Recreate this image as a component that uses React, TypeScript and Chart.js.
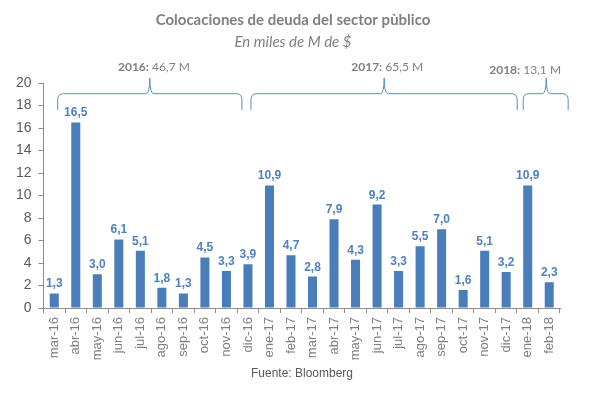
import { useEffect, useRef } from "react";
import { Chart, registerables } from "chart.js";

Chart.register(...registerables);

// Monthly placements (thousand millions of $)
const months = [
  "mar-16", "abr-16", "may-16", "jun-16", "jul-16", "ago-16", "sep-16", "oct-16",
  "nov-16", "dic-16", "ene-17", "feb-17", "mar-17", "abr-17", "may-17", "jun-17",
  "jul-17", "ago-17", "sep-17", "oct-17", "nov-17", "dic-17", "ene-18", "feb-18",
];
const placements = [
  1.3, 16.5, 3.0, 6.1, 5.1, 1.8, 1.3, 4.5, 3.3, 3.9, 10.9, 4.7,
  2.8, 7.9, 4.3, 9.2, 3.3, 5.5, 7.0, 1.6, 5.1, 3.2, 10.9, 2.3,
];

// Yearly totals shown above the braces
const yearNames = ["2016:", "2017:", "2018:"];
const yearTotals = [" 46,7 M", " 65,5 M", " 13,1 M"];

const TITLE = "Colocaciones de deuda del sector pùblico";
const SUBTITLE = "En miles de M de $";
const SOURCE = "Fuente: Bloomberg";

const BAR_COLOR = "#4A7EBB";
const LABEL_COLOR = "#4F81BD";
const GREY = "#7F7F7F";
const TICK_GREY = "#595959";
const AXIS_GREY = "#8C8C8C";

// Brace geometry in category-index units: [start, end, peak, label centre]
const braces = [
  [0.16, 8.72, 4.44, 4.63],
  [9.14, 21.51, 15.33, 15.47],
  [21.79, 23.88, 22.86, 21.88],
];

const fmt = (v: number) => v.toFixed(1).replace(".", ",");

const valueLabels = {
  id: "valueLabels",
  afterDatasetsDraw(chart: any) {
    const { ctx } = chart;
    const meta = chart.getDatasetMeta(0);
    ctx.save();
    ctx.font = "bold 12px 'Liberation Sans', Arial, sans-serif";
    ctx.fillStyle = LABEL_COLOR;
    ctx.textAlign = "center";
    ctx.textBaseline = "alphabetic";
    meta.data.forEach((bar: any, i: number) => {
      ctx.fillText(fmt(placements[i]), bar.x, bar.y - 6);
    });
    ctx.restore();
  },
};

const decorations = {
  id: "decorations",
  afterDraw(chart: any) {
    const { ctx } = chart;
    const x = chart.scales.x;
    const y = chart.scales.y;
    ctx.save();

    // Titles
    ctx.textAlign = "center";
    ctx.textBaseline = "middle";
    ctx.fillStyle = GREY;
    ctx.font = "bold 15px Lato, 'Open Sans', sans-serif";
    ctx.fillText(TITLE, 293, 20);
    ctx.font = "italic 15px Lato, 'Open Sans', sans-serif";
    ctx.fillText(SUBTITLE, 293, 42);

    // Source note
    ctx.fillStyle = TICK_GREY;
    ctx.font = "12px 'Liberation Sans', Arial, sans-serif";
    ctx.fillText(SOURCE, 302, 374);

    // Year braces
    const yLine = y.getPixelForValue(19.05);
    const yEnd = y.getPixelForValue(17.6);
    const yPeak = y.getPixelForValue(20.45);
    const r = 6;
    ctx.strokeStyle = "#5B8BC4";
    ctx.lineWidth = 1;
    braces.forEach(([s, e, p, c], i) => {
      const x0 = x.getPixelForValue(s);
      const x1 = x.getPixelForValue(e);
      const xp = x.getPixelForValue(p);
      ctx.beginPath();
      ctx.moveTo(x0, yEnd);
      ctx.lineTo(x0, yLine + r);
      ctx.quadraticCurveTo(x0, yLine, x0 + r, yLine);
      ctx.lineTo(xp - 4, yLine);
      ctx.quadraticCurveTo(xp, yLine, xp, yPeak);
      ctx.quadraticCurveTo(xp, yLine, xp + 4, yLine);
      ctx.lineTo(x1 - r, yLine);
      ctx.quadraticCurveTo(x1, yLine, x1, yLine + r);
      ctx.lineTo(x1, yEnd);
      ctx.stroke();

      // "2016: 46,7 M" with bold year
      const xc = x.getPixelForValue(c);
      const ly = i === 2 ? 70 : 67.5;
      ctx.textBaseline = "middle";
      ctx.textAlign = "left";
      ctx.font = "bold 12px Lato, sans-serif";
      const w1 = ctx.measureText(yearNames[i]).width;
      ctx.font = "12px Lato, sans-serif";
      const w2 = ctx.measureText(yearTotals[i]).width;
      const left = xc - (w1 + w2) / 2;
      ctx.fillStyle = GREY;
      ctx.font = "bold 12px Lato, sans-serif";
      ctx.fillText(yearNames[i], left, ly);
      ctx.font = "12px Lato, sans-serif";
      ctx.fillText(yearTotals[i], left + w1, ly);
    });
    ctx.restore();
  },
};

export default function App() {
  const ref = useRef<HTMLCanvasElement | null>(null);

  useEffect(() => {
    if (!ref.current) return;
    const chart = new Chart(ref.current, {
      type: "bar",
      data: {
        labels: months,
        datasets: [
          {
            data: placements,
            backgroundColor: BAR_COLOR,
            categoryPercentage: 1,
            barPercentage: 0.42,
          },
        ],
      },
      options: {
        animation: false,
        responsive: false,
        devicePixelRatio: 1,
        layout: { padding: { top: 83, right: 33, left: 0, bottom: 0 } },
        plugins: {
          legend: { display: false },
          tooltip: { enabled: false },
          title: { display: false },
        },
        scales: {
          x: {
            afterFit: (s: any) => {
              s.height = 99;
            },
            border: { color: AXIS_GREY },
            grid: {
              offset: true,
              drawOnChartArea: false,
              tickLength: 5,
              color: AXIS_GREY,
            },
            ticks: {
              minRotation: 90,
              maxRotation: 90,
              autoSkip: false,
              padding: 4,
              color: GREY,
              font: { family: "'Liberation Sans', Arial, sans-serif", size: 13 },
            },
          },
          y: {
            min: 0,
            max: 20,
            afterFit: (s: any) => {
              s.width = 43.5;
            },
            border: { color: AXIS_GREY },
            grid: {
              drawOnChartArea: false,
              tickLength: 5,
              color: AXIS_GREY,
            },
            ticks: {
              stepSize: 2,
              padding: 7,
              color: TICK_GREY,
              font: { family: "'Liberation Sans', Arial, sans-serif", size: 14 },
            },
          },
        },
      },
      plugins: [valueLabels, decorations],
    });
    return () => chart.destroy();
  }, []);

  return (
    <div style={{ position: "fixed", left: 0, top: 0, width: 593, height: 407, background: "#fff" }}>
      <canvas ref={ref} width={593} height={407} />
    </div>
  );
}
